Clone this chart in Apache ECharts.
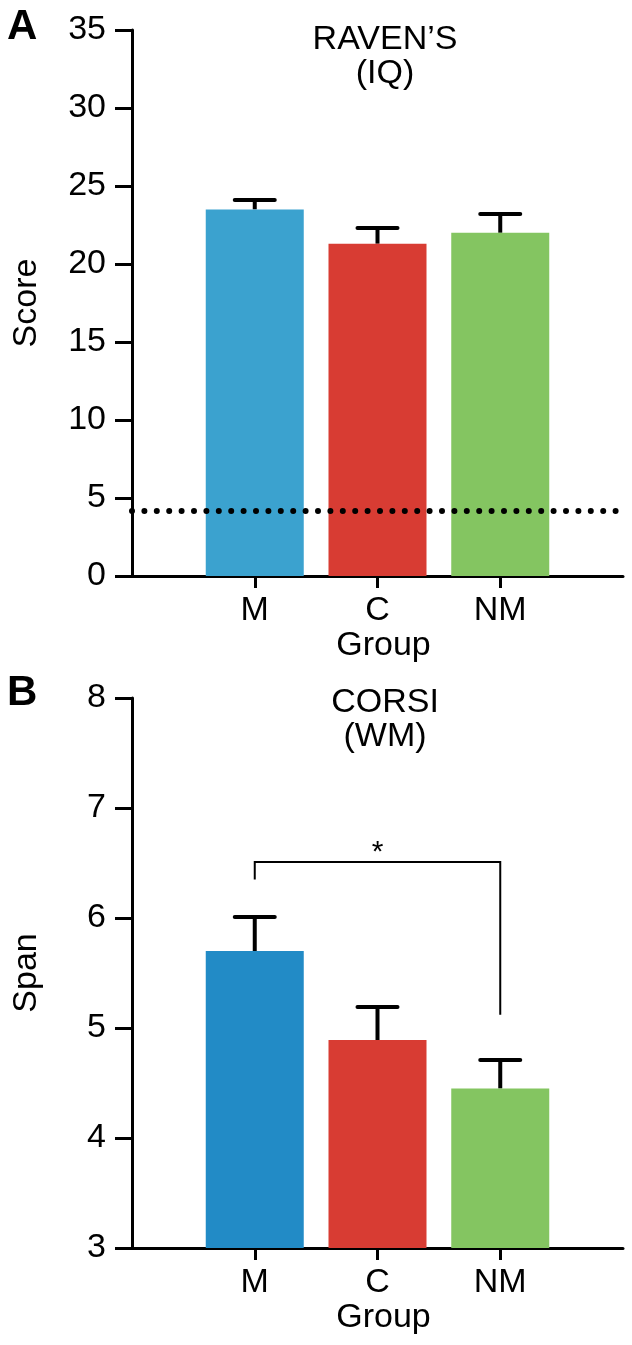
<!DOCTYPE html>
<html>
<head>
<meta charset="utf-8">
<script src="https://cdn.jsdelivr.net/npm/echarts@6/dist/echarts.min.js"></script>
<style>
  html, body { margin: 0; padding: 0; background: #fff; }
  #chart { width: 632px; height: 1345px; }
</style>
</head>
<body>
<div id="chart"></div>
<script>
// ---- data ----
const axisCategories = ['', 'M', 'C', 'NM', ''];   // padded ends give the half-band margins
const groups = ['M', 'C', 'NM'];
const ravenMean = [23.5, 21.3, 22.0];
const ravenUpper = [24.1, 22.3, 23.2];
const corsiMean = [5.70, 4.89, 4.45];
const corsiUpper = [6.01, 5.19, 4.71];
const chanceLevel = 4.2;
const ravenRange = [0, 35, 5];
const corsiRange = [3, 8, 1];
const sigFrom = 'M', sigTo = 'NM';
const sigTop = 6.51, sigLeftEnd = 6.35, sigRightEnd = 5.12;
const sigLabel = '*';
const titleA = 'RAVEN\u2019S\n(IQ)';
const titleB = 'CORSI\n(WM)';

const colorsA = ['#3ba2cf', '#d83c33', '#84c561'];
const colorsB = ['#228bc6', '#d83c33', '#84c561'];
const FONT = '"Liberation Sans", Arial, Helvetica, sans-serif';
const FS = 34;

function barData(vals, cols) {
  return groups.map((g, i) => ({ value: [g, vals[i]], itemStyle: { color: cols[i] } }));
}
function errData(vals, upper) {
  return groups.map((g, i) => [g, vals[i], upper[i]]);
}
function errRender(params, api) {
  const x = api.value(0);
  const p0 = api.coord([x, api.value(1)]);
  const p1 = api.coord([x, api.value(2)]);
  const half = 20;
  return {
    type: 'group',
    children: [
      { type: 'line', shape: { x1: p0[0], y1: p0[1], x2: p1[0], y2: p1[1] }, style: { stroke: '#000', lineWidth: 4 } },
      { type: 'line', shape: { x1: p1[0] - half, y1: p1[1], x2: p1[0] + half, y2: p1[1] }, style: { stroke: '#000', lineWidth: 4, lineCap: 'round' } }
    ]
  };
}

const xAxisBase = (gi) => ({
  type: 'category', gridIndex: gi, data: axisCategories, boundaryGap: false,
  axisLine: { lineStyle: { color: '#000', width: 3 } },
  axisTick: { length: 12, lineStyle: { color: '#000', width: 3 }, interval: (i) => i > 0 && i < axisCategories.length - 1 },
  axisLabel: { color: '#000', fontSize: FS, fontFamily: FONT, margin: 18, interval: 0 },
  name: 'Group', nameLocation: 'middle', nameGap: 51,
  nameTextStyle: { color: '#000', fontSize: FS, fontFamily: FONT, padding: [0, 0, 0, 12] },
  splitLine: { show: false }
});
const yAxisBase = (gi, r, name) => ({
  type: 'value', gridIndex: gi, min: r[0], max: r[1], interval: r[2],
  axisLine: { show: true, lineStyle: { color: '#000', width: 3 } },
  axisTick: { show: true, length: 17, lineStyle: { color: '#000', width: 3 } },
  axisLabel: { color: '#000', fontSize: FS, fontFamily: FONT, margin: 26 },
  splitLine: { show: false },
  name: name, nameLocation: 'middle', nameGap: 88, nameRotate: 90,
  nameTextStyle: { color: '#000', fontSize: FS, fontFamily: FONT }
});

const option = {
  backgroundColor: '#fff',
  animation: false,
  grid: [
    { left: 132, top: 30, width: 491, height: 546, containLabel: false, outerBoundsMode: 'none' },
    { left: 132, top: 698, width: 491, height: 550, containLabel: false, outerBoundsMode: 'none' }
  ],
  xAxis: [xAxisBase(0), xAxisBase(1)],
  yAxis: [yAxisBase(0, ravenRange, 'Score'), yAxisBase(1, corsiRange, 'Span')],
  graphic: [
    { type: 'text', left: 7, top: 6, style: { text: 'A', font: 'bold 42px ' + FONT, fill: '#000' } },
    { type: 'text', left: 7, top: 672, style: { text: 'B', font: 'bold 42px ' + FONT, fill: '#000' } },
    { type: 'text', x: 385, y: 23, style: { text: titleA, font: FS + 'px ' + FONT, fill: '#000', align: 'center', verticalAlign: 'top', lineHeight: 34 } },
    { type: 'text', x: 385, y: 686, style: { text: titleB, font: FS + 'px ' + FONT, fill: '#000', align: 'center', verticalAlign: 'top', lineHeight: 34 } }
  ],
  series: [
    {
      type: 'bar', xAxisIndex: 0, yAxisIndex: 0, barWidth: 98, data: barData(ravenMean, colorsA), z: 2,
      markLine: {
        silent: true, symbol: 'none', label: { show: false },
        lineStyle: { color: '#000', width: 6, type: [0, 12.4], cap: 'round' },
        data: [{ yAxis: chanceLevel }]
      }
    },
    { type: 'custom', xAxisIndex: 0, yAxisIndex: 0, data: errData(ravenMean, ravenUpper), encode: { x: 0, y: [1, 2] }, renderItem: errRender, z: 1 },
    { type: 'bar', xAxisIndex: 1, yAxisIndex: 1, barWidth: 98, data: barData(corsiMean, colorsB), z: 2 },
    { type: 'custom', xAxisIndex: 1, yAxisIndex: 1, data: errData(corsiMean, corsiUpper), encode: { x: 0, y: [1, 2] }, renderItem: errRender, z: 1 },
    {
      type: 'custom', xAxisIndex: 1, yAxisIndex: 1,
      data: [[axisCategories.indexOf(sigFrom), axisCategories.indexOf(sigTo), sigTop, sigLeftEnd, sigRightEnd]],
      encode: { x: 0, y: 2 },
      renderItem: function (params, api) {
        const a = api.value(0), b = api.value(1);
        const pA = api.coord([a, api.value(3)]);
        const tA = api.coord([a, api.value(2)]);
        const tB = api.coord([b, api.value(2)]);
        const pB = api.coord([b, api.value(4)]);
        return {
          type: 'group',
          children: [
            { type: 'polyline', shape: { points: [pA, tA, tB, pB] }, style: { stroke: '#000', lineWidth: 2, fill: null } },
            { type: 'text', x: (tA[0] + tB[0]) / 2, y: tA[1] + 6, style: { text: sigLabel, font: '30px ' + FONT, fill: '#000', align: 'center', verticalAlign: 'bottom' } }
          ]
        };
      }
    }
  ]
};

const chart = echarts.init(document.getElementById('chart'), null, { renderer: 'canvas' });
chart.setOption(option);
</script>
</body>
</html>
